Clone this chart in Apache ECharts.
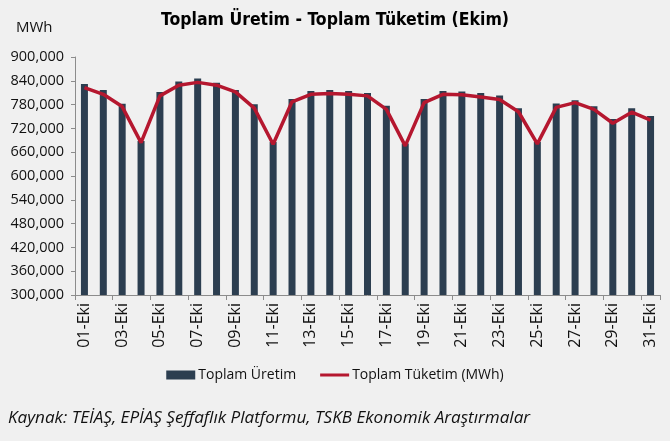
<!DOCTYPE html>
<html>
<head>
<meta charset="utf-8">
<script src="https://cdn.jsdelivr.net/npm/echarts@6/dist/echarts.min.js"></script>
<style>
html,body{margin:0;padding:0;background:#F0F0F0;}
#chart{width:670px;height:441px;}
</style>
</head>
<body>
<div id="chart"></div>
<script>
var categories = ['01-Eki','02-Eki','03-Eki','04-Eki','05-Eki','06-Eki','07-Eki','08-Eki','09-Eki','10-Eki',
  '11-Eki','12-Eki','13-Eki','14-Eki','15-Eki','16-Eki','17-Eki','18-Eki','19-Eki','20-Eki',
  '21-Eki','22-Eki','23-Eki','24-Eki','25-Eki','26-Eki','27-Eki','28-Eki','29-Eki','30-Eki','31-Eki'];

var uretim = [832000, 817000, 782000, 688000, 812000, 838000, 846000, 835000, 817000, 781000,
  686000, 794000, 814000, 817000, 814000, 809000, 777000, 682000, 794000, 814000,
  813000, 809000, 803000, 771000, 686000, 783000, 791000, 776000, 744000, 771000, 751000];

var tuketim = [823000, 806000, 775000, 684000, 802000, 829000, 836000, 829000, 812000, 771000,
  680000, 787000, 806000, 808000, 806000, 802000, 768000, 676000, 785000, 806000,
  805000, 799000, 793000, 762000, 681000, 773000, 785000, 768000, 733000, 761000, 741000];

var seriesNames = ['Toplam Üretim', 'Toplam Tüketim (MWh)'];
var chartTitle = 'Toplam Üretim - Toplam Tüketim (Ekim)';
var unitLabel = 'MWh';
var sourceText = 'Kaynak: TEİAŞ, EPİAŞ Şeffaflık Platformu, TSKB Ekonomik Araştırmalar';

var FONT = '"Open Sans", "Noto Sans", sans-serif';

var chart = echarts.init(document.getElementById('chart'), null, {renderer: 'canvas'});
chart.setOption({
  backgroundColor: '#F0F0F0',
  animation: false,
  title: [
    {
      text: chartTitle,
      left: 'center',
      top: 6,
      textStyle: {fontFamily: '"Liberation Sans Narrow", "DejaVu Sans Condensed", sans-serif', fontWeight: 'bold', fontSize: 17.5, color: '#000'}
    },
    {
      text: unitLabel,
      left: 11,
      top: 15,
      textStyle: {fontFamily: FONT, fontWeight: 'normal', fontSize: 15, color: '#111'}
    },
    {
      text: sourceText,
      left: 3,
      top: 405,
      textStyle: {fontFamily: FONT, fontStyle: 'italic', fontWeight: 'normal', fontSize: 17.1, color: '#111'}
    }
  ],
  legend: {
    data: [
      {name: seriesNames[0], icon: 'rect'},
      {name: seriesNames[1], icon: 'path://M0,0L0.01,0L0.01,0.01Z M0,3H30V6H0Z M29.99,9L30,9L30,8.99Z'}
    ],
    left: 'center',
    top: 363,
    itemWidth: 29,
    itemHeight: 9,
    itemGap: 24,
    textStyle: {fontFamily: FONT, fontSize: 14, color: '#111', padding: [0, 0, 0, -2]}
  },
  grid: {left: 75, right: 10, top: 57, bottom: 146},
  xAxis: {
    type: 'category',
    data: categories,
    boundaryGap: true,
    axisLine: {lineStyle: {color: '#8c8c8c', width: 1}},
    axisTick: {show: true, interval: 1, length: 5, lineStyle: {color: '#8c8c8c'}},
    axisLabel: {interval: 1, rotate: 90, margin: 8, fontFamily: FONT, fontSize: 16, color: '#111'}
  },
  yAxis: {
    type: 'value',
    min: 300000,
    max: 900000,
    interval: 60000,
    axisLine: {show: true, lineStyle: {color: '#8c8c8c', width: 1}},
    axisTick: {show: true, length: 4, lineStyle: {color: '#8c8c8c'}},
    splitLine: {show: false},
    axisLabel: {
      margin: 11,
      fontFamily: FONT, fontSize: 14.5, color: '#111',
      formatter: function (v) { return v.toLocaleString('en-US'); }
    }
  },
  series: [
    {
      name: seriesNames[0],
      type: 'bar',
      data: uretim,
      barWidth: 7,
      itemStyle: {color: '#2C3E50'}
    },
    {
      name: seriesNames[1],
      type: 'line',
      data: tuketim,
      symbol: 'none',
      lineStyle: {color: '#B5172F', width: 3.5},
      itemStyle: {color: '#B5172F'}
    }
  ]
});
</script>
</body>
</html>
